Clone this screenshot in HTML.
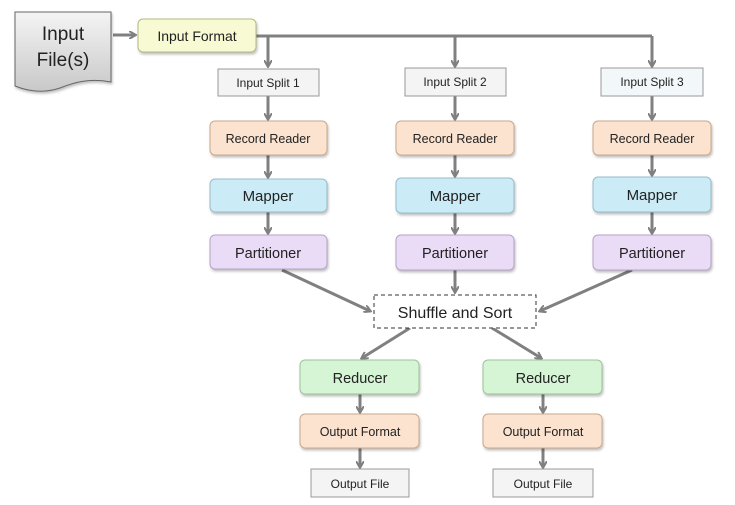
<!DOCTYPE html>
<html><head><meta charset="utf-8"><style>
html,body{margin:0;padding:0;background:#fff;width:735px;height:505px;overflow:hidden}
text{font-family:"Liberation Sans",sans-serif;fill:#222}
</style></head><body>
<svg width="735" height="505" viewBox="0 0 735 505" xmlns="http://www.w3.org/2000/svg">
<defs>
<marker id="a" markerWidth="8" markerHeight="8" refX="6" refY="4" orient="auto" markerUnits="userSpaceOnUse">
<path d="M0,0 L7,4 L0,8" fill="none" stroke="#808080" stroke-width="2"/></marker>
<linearGradient id="g" x1="0" y1="0" x2="0" y2="1"><stop offset="0" stop-color="#f4f4f4"/><stop offset="1" stop-color="#c8c8c8"/></linearGradient>
<filter id="s" x="-10%" y="-10%" width="130%" height="140%"><feDropShadow dx="1" dy="2" stdDeviation="1.2" flood-color="#000" flood-opacity="0.25"/></filter>
</defs>
<g stroke="#808080" stroke-width="3" fill="none">
<line x1="113" y1="35" x2="135" y2="35" marker-end="url(#a)"/>
<polyline points="256,36 652,36"/>
<line x1="268" y1="36" x2="268" y2="66" marker-end="url(#a)"/>
<line x1="455" y1="36" x2="455" y2="66" marker-end="url(#a)"/>
<line x1="652" y1="36" x2="652" y2="66" marker-end="url(#a)"/>
<line x1="268" y1="96" x2="268" y2="119" marker-end="url(#a)"/>
<line x1="455" y1="96" x2="455" y2="119" marker-end="url(#a)"/>
<line x1="652" y1="96" x2="652" y2="119" marker-end="url(#a)"/>
<line x1="268" y1="155" x2="268" y2="177" marker-end="url(#a)"/>
<line x1="455" y1="155" x2="455" y2="176" marker-end="url(#a)"/>
<line x1="652" y1="155" x2="652" y2="175" marker-end="url(#a)"/>
<line x1="268" y1="212" x2="268" y2="233" marker-end="url(#a)"/>
<line x1="455" y1="213" x2="455" y2="233" marker-end="url(#a)"/>
<line x1="652" y1="212" x2="652" y2="233" marker-end="url(#a)"/>
<line x1="282" y1="270" x2="370" y2="311" marker-end="url(#a)"/>
<line x1="455" y1="270" x2="455" y2="292" marker-end="url(#a)"/>
<line x1="632" y1="270" x2="540" y2="311" marker-end="url(#a)"/>
<line x1="410" y1="328" x2="362" y2="358" marker-end="url(#a)"/>
<line x1="492" y1="328" x2="541" y2="358" marker-end="url(#a)"/>
<line x1="360" y1="394" x2="360" y2="412" marker-end="url(#a)"/>
<line x1="543" y1="394" x2="543" y2="412" marker-end="url(#a)"/>
<line x1="360" y1="448" x2="360" y2="467" marker-end="url(#a)"/>
<line x1="543" y1="448" x2="543" y2="467" marker-end="url(#a)"/>
</g>
<path d="M15,12 H111 V82 C90,78 75,82 60,88 C45,93 30,92 15,86 Z" fill="url(#g)" stroke="#666" stroke-width="1" filter="url(#s)"/>
<text x="63" y="40" font-size="19" text-anchor="middle">Input</text>
<text x="63" y="66" font-size="19" text-anchor="middle">File(s)</text>
<rect x="138" y="19" width="118" height="33" rx="5" fill="#f7fad2" stroke="#b8b880" filter="url(#s)"/>
<text x="197" y="41" font-size="14" text-anchor="middle">Input Format</text>
<g font-size="12">
<rect x="218" y="69" width="101" height="27" fill="#f4f4f4" stroke="#999"/><text x="268" y="87" text-anchor="middle" font-size="12">Input Split 1</text>
<rect x="405" y="68" width="101" height="28" fill="#f4f4f4" stroke="#999"/><text x="455" y="86" text-anchor="middle" font-size="12">Input Split 2</text>
<rect x="601" y="68" width="102" height="28" fill="#f2f8fa" stroke="#999"/><text x="652" y="86" text-anchor="middle" font-size="12">Input Split 3</text>
</g>
<g filter="url(#s)" stroke-width="1">
<rect x="210" y="121" width="117" height="34" rx="5" fill="#fbe3d0" stroke="#c9a88c"/>
<rect x="396" y="121" width="118" height="34" rx="5" fill="#fbe3d0" stroke="#c9a88c"/>
<rect x="593" y="121" width="118" height="34" rx="5" fill="#fbe3d0" stroke="#c9a88c"/>
<rect x="210" y="179" width="117" height="33" rx="5" fill="#cbebf6" stroke="#98bccb"/>
<rect x="396" y="178" width="118" height="35" rx="5" fill="#cbebf6" stroke="#98bccb"/>
<rect x="593" y="177" width="118" height="35" rx="5" fill="#cbebf6" stroke="#98bccb"/>
<rect x="210" y="235" width="117" height="34" rx="5" fill="#eadcf6" stroke="#b6a3c8"/>
<rect x="396" y="235" width="118" height="35" rx="5" fill="#eadcf6" stroke="#b6a3c8"/>
<rect x="593" y="235" width="118" height="35" rx="5" fill="#eadcf6" stroke="#b6a3c8"/>
<rect x="300" y="360" width="119" height="34" rx="5" fill="#d5f5d5" stroke="#9cc49c"/>
<rect x="483" y="360" width="119" height="34" rx="5" fill="#d5f5d5" stroke="#9cc49c"/>
<rect x="300" y="414" width="119" height="34" rx="5" fill="#fbe3d0" stroke="#c9a88c"/>
<rect x="483" y="414" width="119" height="34" rx="5" fill="#fbe3d0" stroke="#c9a88c"/>
</g>
<g text-anchor="middle" font-size="12.5">
<text x="268" y="143" font-size="12.5">Record Reader</text>
<text x="455" y="143" font-size="12.5">Record Reader</text>
<text x="652" y="143" font-size="12.5">Record Reader</text>
<text x="268" y="201" font-size="15">Mapper</text>
<text x="455" y="201" font-size="15">Mapper</text>
<text x="652" y="200" font-size="15">Mapper</text>
<text x="268" y="258" font-size="14.5">Partitioner</text>
<text x="455" y="258" font-size="14.5">Partitioner</text>
<text x="652" y="258" font-size="14.5">Partitioner</text>
<text x="360" y="383" font-size="14.5">Reducer</text>
<text x="543" y="383" font-size="14.5">Reducer</text>
<text x="360" y="436" font-size="12.5">Output Format</text>
<text x="543" y="436" font-size="12.5">Output Format</text>
</g>
<rect x="374" y="295" width="162" height="33" fill="#fff" stroke="#333" stroke-dasharray="4,3"/>
<text x="455" y="318" font-size="16" text-anchor="middle">Shuffle and Sort</text>
<rect x="311" y="469" width="98" height="28" fill="#f4f4f4" stroke="#999"/>
<text x="360" y="488" font-size="12" text-anchor="middle">Output File</text>
<rect x="493" y="469" width="100" height="28" fill="#f4f4f4" stroke="#999"/>
<text x="543" y="488" font-size="12" text-anchor="middle">Output File</text>
</svg>
</body></html>
